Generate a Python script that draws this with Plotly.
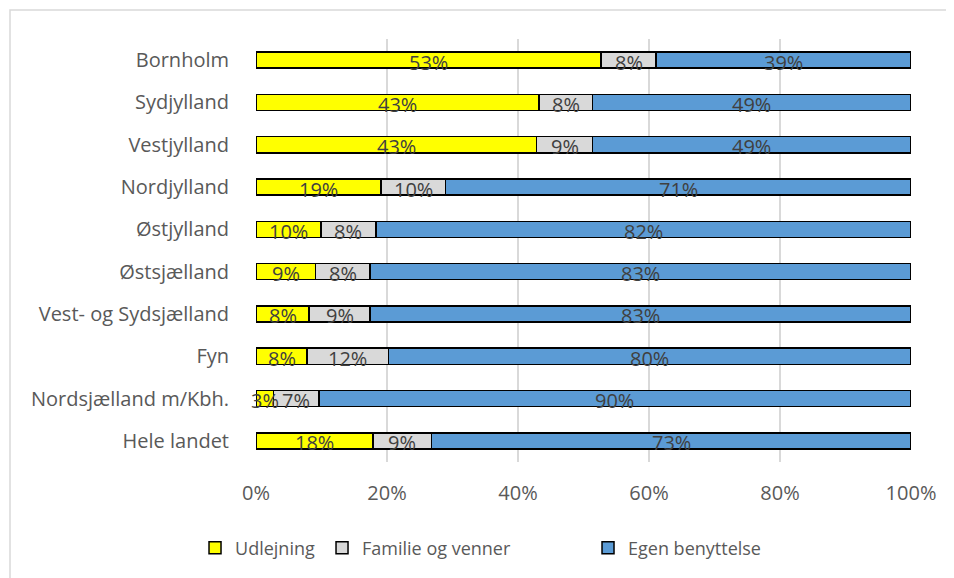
import plotly.graph_objects as go

regions = ["Bornholm", "Sydjylland", "Vestjylland", "Nordjylland", "Østjylland",
           "Østsjælland", "Vest- og Sydsjælland", "Fyn", "Nordsjælland m/Kbh.", "Hele landet"]
udlejning = [52.7, 43.2, 42.8, 19.1, 9.9, 9.1, 8.1, 7.8, 2.7, 17.9]
familie = [8.4, 8.2, 8.6, 9.8, 8.4, 8.3, 9.3, 12.4, 6.9, 8.9]
egen = [38.9, 48.6, 48.6, 71.1, 81.7, 82.6, 82.6, 79.8, 90.4, 73.2]

x_tickvals = [0, 20, 40, 60, 80, 100]
x_ticktext = ["0%", "20%", "40%", "60%", "80%", "100%"]

series = [("Udlejning", udlejning, "#FFFF00"),
          ("Familie og venner", familie, "#D9D9D9"),
          ("Egen benyttelse", egen, "#5B9BD5")]
legend_x = [-0.0931, 0.1008, 0.5069]
legend_names = ["legend", "legend2", "legend3"]

fig = go.Figure()
for (name, vals, color), lg in zip(series, legend_names):
    fig.add_trace(go.Bar(
        y=regions, x=vals, name=name, orientation="h",
        marker=dict(color=color, line=dict(color="#000000", width=1.5)),
        legend=lg,
    ))

# data labels on top of all bars
annotations = []
start = [0.0] * len(regions)
for name, vals, color in series:
    for i, (r, v) in enumerate(zip(regions, vals)):
        annotations.append(dict(
            x=start[i] + v / 2, y=r, xref="x", yref="y",
            text=f"{round(v):.0f}%", showarrow=False, yshift=-2,
            font=dict(family="Open Sans", size=20, color="#404040"),
        ))
        start[i] += v

legend_common = dict(orientation="h", yanchor="middle", y=-0.2033, xanchor="left",
                     font=dict(family="Open Sans", size=18, color="#595959"),
                     bgcolor="rgba(0,0,0,0)")
layout_legends = {}
for lg, lx in zip(legend_names, legend_x):
    layout_legends[lg] = dict(legend_common, x=lx)

fig.update_layout(
    width=946, height=570,
    barmode="stack", bargap=0.62,
    plot_bgcolor="white", paper_bgcolor="white",
    margin=dict(l=248, r=43, t=31, b=116),
    font=dict(family="Open Sans", color="#595959"),
    xaxis=dict(range=[0, 100], tickvals=x_tickvals, ticktext=x_ticktext,
               showgrid=True, gridcolor="#D9D9D9", gridwidth=1.5, zeroline=False,
               showline=False, tickfont=dict(family="Open Sans", size=20, color="#595959"),
               ticks="", ticklabelstandoff=17),
    yaxis=dict(categoryorder="array", categoryarray=regions, autorange="reversed",
               showgrid=False, showline=False, ticks="",
               tickfont=dict(family="Open Sans", size=20, color="#595959"),
               ticklabelstandoff=26),
    showlegend=True,
    annotations=annotations,
    shapes=[dict(type="rect", xref="paper", yref="paper",
                 x0=(2 - 248) / 655, x1=1.3, y0=-0.6, y1=1 + (31 - 2) / 423,
                 line=dict(color="#D9D9D9", width=1.5), fillcolor="rgba(0,0,0,0)",
                 layer="below")],
    **layout_legends,
)

fig.write_html("out.html")
